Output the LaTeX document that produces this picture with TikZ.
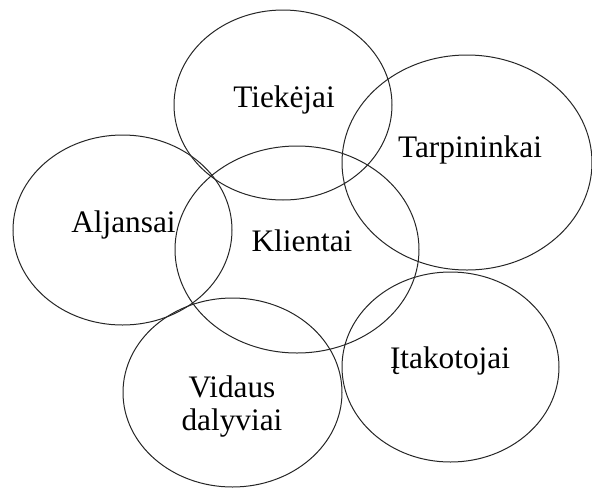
\documentclass[tikz,border=0pt]{standalone}
\usepackage{fontspec}
\setmainfont{Liberation Serif}
\usetikzlibrary{shapes.geometric}
\begin{document}
\begin{tikzpicture}[x=1pt,y=-1pt,
  ring/.style={draw=black!85, line width=1pt, ellipse, inner sep=0pt, outer sep=0pt},
  lbl/.style={anchor=base, inner sep=0pt, font=\fontsize{31.3}{34}\selectfont}]
\useasboundingbox (0,0) rectangle (592,488);
% the six overlapping groups
\node[ring, minimum width=218pt, minimum height=190pt] (tiek) at (283,105) {};
\node[ring, minimum width=250pt, minimum height=215pt] (tarp) at (467,162.5) {};
\node[ring, minimum width=219pt, minimum height=190pt] (aljs) at (122.5,230) {};
\node[ring, minimum width=244pt, minimum height=207pt] (klnt) at (297,249.5) {};
\node[ring, minimum width=217pt, minimum height=190pt] (itak) at (450.5,367) {};
\node[ring, minimum width=219pt, minimum height=189pt] (vids) at (232.5,392.5) {};
% names of the groups
\node[lbl] (tTiek) at (284,107) {Tiekėjai};
\node[lbl] (tTarp) at (470,157) {Tarpininkai};
\node[lbl] (tAljs) at (123.5,232) {Aljansai};
\node[lbl] (tKlnt) at (302,251) {Klientai};
\node[lbl] (tItak) at (450,368) {Įtakotojai};
\node[lbl] (tVid1) at (232,397) {Vidaus};
\node[lbl] (tVid2) at (232,430) {dalyviai};
\end{tikzpicture}
\end{document}
